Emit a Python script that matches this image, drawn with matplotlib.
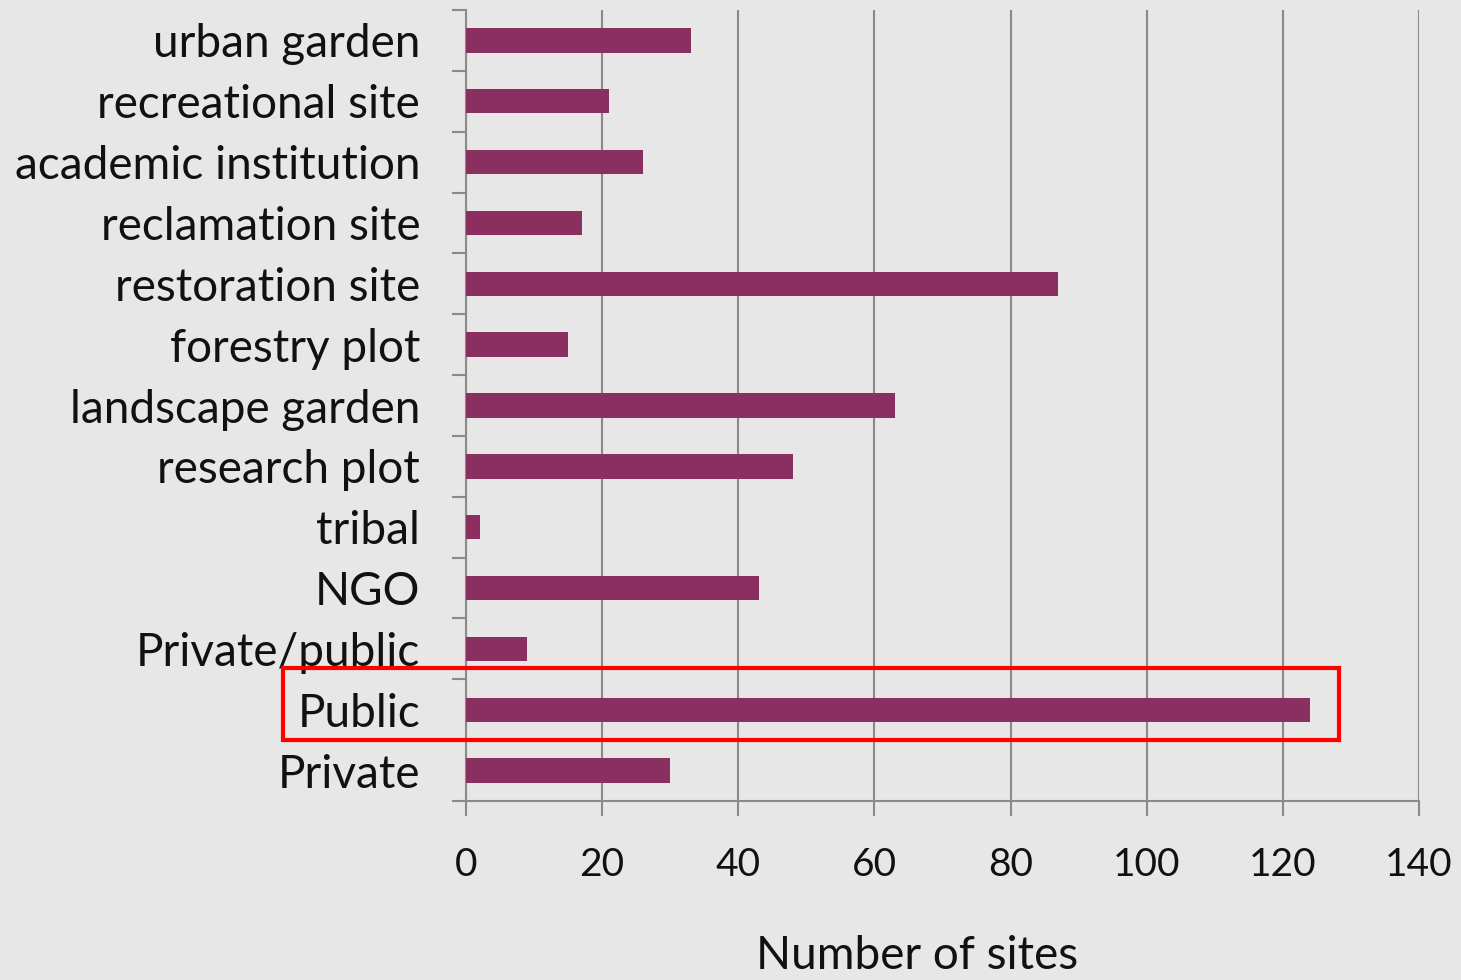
import matplotlib
matplotlib.use("Agg")
import matplotlib.pyplot as plt
from matplotlib.patches import Rectangle
import numpy as np

categories = ["urban garden", "recreational site", "academic institution", "reclamation site",
              "restoration site", "forestry plot", "landscape garden", "research plot", "tribal",
              "NGO", "Private/public", "Public", "Private"]
values = [33, 21, 26, 17, 87, 15, 63, 48, 2, 43, 9, 124, 30]
x_ticks = [0, 20, 40, 60, 80, 100, 120, 140]
x_label = "Number of sites"

plt.rcParams['font.family'] = ['Lato', 'DejaVu Sans']

W, H = 1461, 980
fig = plt.figure(figsize=(W / 100, H / 100), dpi=100)
bg = "#e7e7e7"
fig.patch.set_facecolor(bg)
ax = fig.add_axes([466 / W, 1 - 801 / H, (1419 - 466) / W, (801 - 10) / H])
ax.set_facecolor(bg)

pos = np.arange(len(categories))
ax.barh(pos, values, height=0.4, color="#8b2f60", zorder=3)
ax.set_ylim(len(categories) - 0.5, -0.5)
ax.set_xlim(0, 140)

ax.set_yticks(pos)
ax.set_yticklabels(categories, fontsize=33, color="#111111")
ax.tick_params(axis='y', which='major', length=0, pad=33)
ax.set_yticks(np.arange(-0.5, len(categories)), minor=True)
ax.tick_params(axis='y', which='minor', length=10, width=1.5, color="#8a8a8a", direction='out')

ax.set_xticks(x_ticks)
ax.set_xticklabels([str(t) for t in x_ticks], fontsize=28, color="#111111")
ax.tick_params(axis='x', length=11, width=1.5, color="#8a8a8a", pad=22)
ax.grid(axis='x', color="#8a8a8a", linewidth=1.5, zorder=1)

fig.text(917 / W, 1 - 977 / H, x_label, fontsize=33, color="#111111", ha="center", va="bottom")

for s in ["top", "right"]:
    ax.spines[s].set_visible(False)
for s in ["left", "bottom"]:
    ax.spines[s].set_color("#8a8a8a")
    ax.spines[s].set_linewidth(1.5)

fig.add_artist(Rectangle((283 / W, 1 - 740 / H), (1339 - 283) / W, (740 - 668) / H,
                         transform=fig.transFigure, fill=False, edgecolor="#ff0000",
                         linewidth=3, zorder=10))

fig.savefig("out.png", dpi=100, facecolor=bg)
